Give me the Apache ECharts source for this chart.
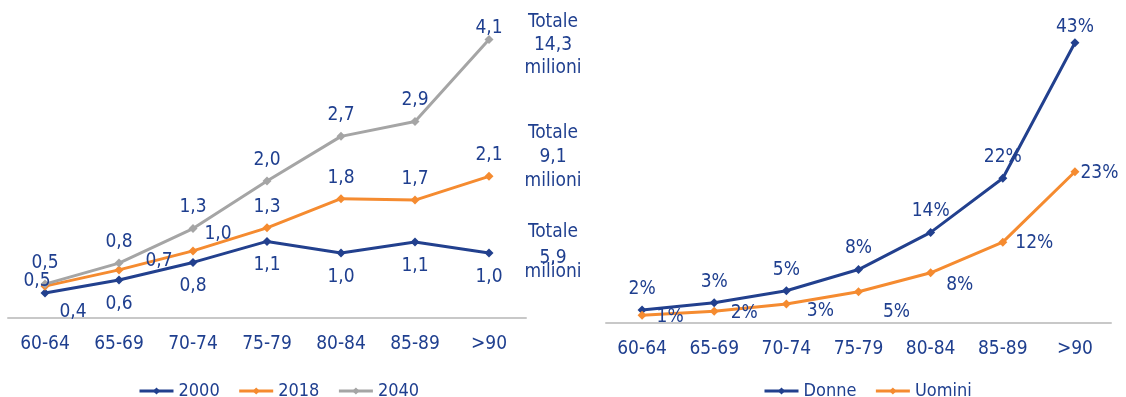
<!DOCTYPE html>
<html>
<head>
<meta charset="utf-8">
<script src="https://cdn.jsdelivr.net/npm/echarts@6/dist/echarts.min.js"></script>
<style>
html,body{margin:0;padding:0;background:#fff;}
#main{width:1126px;height:397px;}
</style>
</head>
<body>
<div id="main"></div>
<script>
// fasce d'età
var ageGroups = ['60-64', '65-69', '70-74', '75-79', '80-84', '85-89', '>90'];
// milioni di persone per anno
var pop2000 = [0.37, 0.56, 0.82, 1.13, 0.96, 1.12, 0.96];
var pop2018 = [0.47, 0.71, 0.99, 1.33, 1.76, 1.74, 2.09];
var pop2040 = [0.50, 0.81, 1.32, 2.02, 2.68, 2.90, 4.11];
// quota percentuale per sesso
var shareDonne = [2.0, 3.1, 4.95, 8.2, 13.9, 22.2, 43.0];
var shareUomini = [1.2, 1.8, 2.9, 4.8, 7.7, 12.4, 23.2];
// totali scritti a destra del grafico
var totalLabels = ['14,3', '9,1', '5,9'];

(function () {
	var FONT = 'DejaVu Sans Condensed';
	var TXT = '#1F3F8F';
	var BLUE = '#22408E';
	var ORANGE = '#F58B30';
	var GREY = '#A5A5A5';

	var fmtDec = function (p) { return p.value.toFixed(1).replace('.', ','); };
	var fmtPct = function (p) { return Math.round(p.value) + '%'; };

	// spostamenti delle etichette (come nell'originale)
	var nudge2000 = [[28, -5], null, null, null, null, null, null];
	var nudge2018 = [[-8, 16], [40, 12], [25, 4], null, null, null, null];
	var nudge2040 = [null, null, null, null, null, null, [0, 10]];
	var nudgeDonne = [null, null, null, null, null, null, [0, 5]];
	var nudgeUomini = [[0, 2], [2, 2], [6, 7], [10, 20], [1, 12], [-2, 1], [-9, 1]];

	function makeSeries(name, values, color, idx, pos, dist, fmt, nudge) {
		return {
			name: name,
			type: 'line',
			xAxisIndex: idx,
			yAxisIndex: idx,
			symbol: 'diamond',
			symbolSize: 9,
			lineStyle: {width: 3, color: color},
			itemStyle: {color: color},
			label: {
				show: true,
				position: pos,
				distance: dist,
				color: TXT,
				fontSize: 19,
				fontFamily: FONT,
				formatter: fmt
			},
			data: values.map(function (v, i) {
				var item = {value: v};
				if (nudge[i]) item.label = {offset: nudge[i]};
				return item;
			})
		};
	}

	function axisX(gi) {
		return {
			type: 'category',
			gridIndex: gi,
			boundaryGap: true,
			data: ageGroups,
			axisLine: {lineStyle: {color: '#C8C8C8', width: 2}},
			axisTick: {show: false},
			axisLabel: {color: TXT, fontSize: 19, fontFamily: FONT, margin: 17}
		};
	}

	function legendOf(names, left) {
		return {
			data: names,
			left: left, top: 377,
			itemWidth: 34, itemHeight: 9, itemGap: 18,
			lineStyle: {width: 3},
			textStyle: {color: TXT, fontSize: 18, fontFamily: FONT}
		};
	}

	// testi "Totale ... milioni"
	var totalY = [[22, 45, 68], [133, 157, 181], [232, 258, 272]];
	var graphics = [];
	totalLabels.forEach(function (t, i) {
		['Totale', t, 'milioni'].forEach(function (line, j) {
			graphics.push({
				type: 'text',
				x: 553,
				y: totalY[i][j],
				style: {
					text: line,
					align: 'center',
					verticalAlign: 'middle',
					fill: TXT,
					font: '19px "DejaVu Sans Condensed"'
				}
			});
		});
	});

	var chart = echarts.init(document.getElementById('main'));
	var option = {
		animation: false,
		textStyle: {fontFamily: FONT},
		grid: [
			{left: 8, width: 518, top: 13, height: 305, outerBoundsMode: 'none'},
			{left: 606, width: 505, top: 16.6, height: 306.4, outerBoundsMode: 'none'}
		],
		legend: [
			legendOf(['2000', '2018', '2040'], 133),
			legendOf(['Donne', 'Uomini'], 758)
		],
		xAxis: [axisX(0), axisX(1)],
		yAxis: [
			{type: 'value', gridIndex: 0, min: 0, max: 4.5, show: false},
			{type: 'value', gridIndex: 1, min: 0, max: 47, show: false}
		],
		graphic: graphics,
		series: [
			makeSeries('2000', pop2000, BLUE, 0, 'bottom', 10, fmtDec, nudge2000),
			makeSeries('2018', pop2018, ORANGE, 0, 'top', 7, fmtDec, nudge2018),
			makeSeries('2040', pop2040, GREY, 0, 'top', 7, fmtDec, nudge2040),
			makeSeries('Donne', shareDonne, BLUE, 1, 'top', 7, fmtPct, nudgeDonne),
			makeSeries('Uomini', shareUomini, ORANGE, 1, 'right', 10, fmtPct, nudgeUomini)
		]
	};
	chart.setOption(option);
})();
</script>
</body>
</html>
